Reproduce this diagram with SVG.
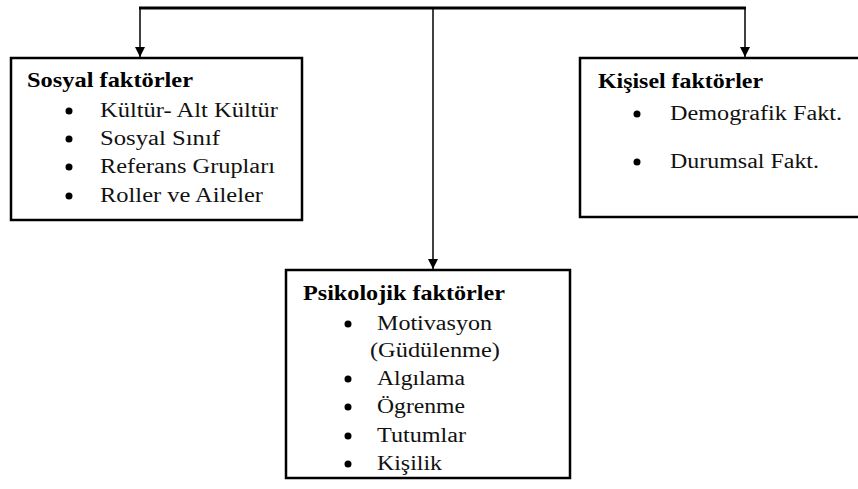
<svg xmlns="http://www.w3.org/2000/svg" width="858" height="489" viewBox="0 0 858 489">
<style>
.box{fill:#fff;stroke:#000;stroke-width:2.5}
.t{font-family:"Liberation Serif","Times New Roman",serif;font-size:21px;font-weight:bold;fill:#000}
.i{font-family:"Liberation Serif","Times New Roman",serif;font-size:20px;fill:#111}
.c{fill:none;stroke:#000;stroke-width:1.5}
</style>
<defs>
<marker id="ah" markerWidth="10" markerHeight="10" refX="10" refY="5" orient="auto" markerUnits="userSpaceOnUse">
<path d="M0,0 L10,5 L0,10 Z" fill="#000"/>
</marker>
</defs>
<rect width="858" height="489" fill="#fff"/>
<g id="connectors">
<line x1="139" y1="8" x2="746" y2="8" stroke="#000" stroke-width="3"/>
<line class="c" x1="140" y1="8" x2="140" y2="57" marker-end="url(#ah)"/>
<line class="c" x1="745" y1="8" x2="745" y2="57" marker-end="url(#ah)"/>
<line class="c" x1="433" y1="8" x2="433" y2="269" marker-end="url(#ah)"/>
</g>
<g id="sosyal">
<rect class="box" x="11" y="58" width="291" height="162"/>
<text class="t" x="27" y="87" textLength="166" lengthAdjust="spacingAndGlyphs">Sosyal faktörler</text>
<circle cx="69" cy="111" r="3.5"/><text class="i" x="100" y="117" textLength="178" lengthAdjust="spacingAndGlyphs">Kültür- Alt Kültür</text>
<circle cx="69" cy="139" r="3.5"/><text class="i" x="100" y="145" textLength="120" lengthAdjust="spacingAndGlyphs">Sosyal Sınıf</text>
<circle cx="69" cy="167" r="3.5"/><text class="i" x="100" y="173" textLength="175" lengthAdjust="spacingAndGlyphs">Referans Grupları</text>
<circle cx="69" cy="196" r="3.5"/><text class="i" x="100" y="202" textLength="163" lengthAdjust="spacingAndGlyphs">Roller ve Aileler</text>
</g>
<g id="kisisel">
<rect class="box" x="580" y="58" width="290" height="159"/>
<text class="t" x="598" y="88" textLength="165" lengthAdjust="spacingAndGlyphs">Kişisel faktörler</text>
<circle cx="637" cy="114" r="3.5"/><text class="i" x="670" y="120" textLength="172" lengthAdjust="spacingAndGlyphs">Demografik Fakt.</text>
<circle cx="637" cy="162" r="3.5"/><text class="i" x="670" y="168" textLength="149" lengthAdjust="spacingAndGlyphs">Durumsal Fakt.</text>
</g>
<g id="psikolojik">
<rect class="box" x="286" y="270" width="284" height="208"/>
<text class="t" x="303" y="300" textLength="202" lengthAdjust="spacingAndGlyphs">Psikolojik faktörler</text>
<circle cx="348" cy="324" r="3.5"/><text class="i" x="377" y="330" textLength="115" lengthAdjust="spacingAndGlyphs">Motivasyon</text>
<text class="i" x="370" y="357" textLength="130" lengthAdjust="spacingAndGlyphs">(Güdülenme)</text>
<circle cx="348" cy="379" r="3.5"/><text class="i" x="377" y="385" textLength="88" lengthAdjust="spacingAndGlyphs">Algılama</text>
<circle cx="348" cy="407" r="3.5"/><text class="i" x="377" y="413" textLength="88" lengthAdjust="spacingAndGlyphs">Ögrenme</text>
<circle cx="348" cy="436" r="3.5"/><text class="i" x="377" y="442" textLength="89" lengthAdjust="spacingAndGlyphs">Tutumlar</text>
<circle cx="348" cy="464" r="3.5"/><text class="i" x="377" y="470" textLength="65" lengthAdjust="spacingAndGlyphs">Kişilik</text>
</g>
</svg>
